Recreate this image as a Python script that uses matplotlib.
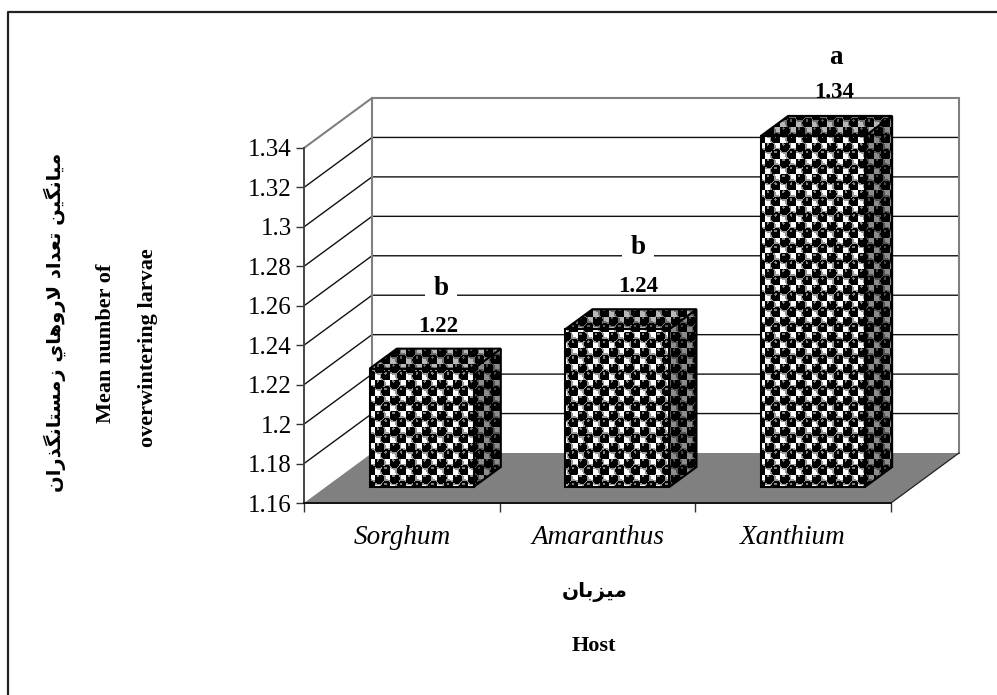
import numpy as np
import matplotlib
matplotlib.use("Agg")
import matplotlib.pyplot as plt
from matplotlib.patches import Polygon
from matplotlib.lines import Line2D

# ---- data ----
categories = ["Sorghum", "Amaranthus", "Xanthium"]
bar_values = [1.22, 1.24, 1.338]
value_labels = ["1.22", "1.24", "1.34"]
group_letters = ["b", "b", "a"]
y_ticks = [1.16, 1.18, 1.20, 1.22, 1.24, 1.26, 1.28, 1.30, 1.32, 1.34]
y_tick_labels = ["1.16", "1.18", "1.2", "1.22", "1.24", "1.26", "1.28", "1.3", "1.32", "1.34"]

W, H = 997, 695
SERIF = "Liberation Serif"

# ---- minimal Arabic shaping (matplotlib has none) ----
FORMS = {
    "ا": (0xFE8D, 0xFE8E), "د": (0xFEA9, 0xFEAA), "ذ": (0xFEAB, 0xFEAC),
    "ر": (0xFEAD, 0xFEAE), "ز": (0xFEAF, 0xFEB0), "و": (0xFEED, 0xFEEE),
    "ب": (0xFE8F, 0xFE90, 0xFE91, 0xFE92), "ت": (0xFE95, 0xFE96, 0xFE97, 0xFE98),
    "س": (0xFEB1, 0xFEB2, 0xFEB3, 0xFEB4), "ع": (0xFEC9, 0xFECA, 0xFECB, 0xFECC),
    "گ": (0xFB92, 0xFB93, 0xFB94, 0xFB95), "ل": (0xFEDD, 0xFEDE, 0xFEDF, 0xFEE0),
    "م": (0xFEE1, 0xFEE2, 0xFEE3, 0xFEE4), "ن": (0xFEE5, 0xFEE6, 0xFEE7, 0xFEE8),
    "ه": (0xFEE9, 0xFEEA, 0xFEEB, 0xFEEC), "ي": (0xFEF1, 0xFEF2, 0xFEF3, 0xFEF4),
}


def shape(text):
    out = []
    prev_joins = False
    i = 0
    while i < len(text):
        c = text[i]
        if c not in FORMS:
            out.append(c)
            prev_joins = False
            i += 1
            continue
        if c == "ل" and i + 1 < len(text) and text[i + 1] == "ا":
            out.append(chr(0xFEFC if prev_joins else 0xFEFB))
            prev_joins = False
            i += 2
            continue
        f = FORMS[c]
        nxt = text[i + 1] if i + 1 < len(text) else " "
        next_joins = len(f) == 4 and nxt in FORMS
        if prev_joins and next_joins:
            g = f[3]
        elif prev_joins:
            g = f[1]
        elif next_joins:
            g = f[2]
        else:
            g = f[0]
        out.append(chr(g))
        prev_joins = len(f) == 4
        i += 1
    return "".join(reversed(out))


fig = plt.figure(figsize=(W / 100, H / 100), dpi=100, facecolor="white")
AX_L, AX_R, AX_T, AX_B = 304, 891, 148, 503
ax = fig.add_axes([AX_L / W, 1 - AX_B / H, (AX_R - AX_L) / W, (AX_B - AX_T) / H])
ax.patch.set_alpha(0)
XMIN, XMAX, YMIN, YMAX = 0, 3, 1.16, 1.34
ax.set_xlim(XMIN, XMAX)
ax.set_ylim(YMIN, YMAX)

# depth of the 3-D box expressed in data units
DX = 68 / ((AX_R - AX_L) / (XMAX - XMIN))
DY = 50 / ((AX_B - AX_T) / (YMAX - YMIN))


def proj(x, y, d):
    return (x + d * DX, y + d * DY)


GRAY = "#808080"

# walls and floor
for pts in ([proj(XMIN, YMAX, 0), proj(XMIN, YMAX, 1), proj(XMAX, YMAX, 1), proj(XMAX, YMIN, 1)],
            [proj(XMIN, YMAX, 1), proj(XMIN, YMIN, 1)]):
    xs, ys = zip(*pts)
    ax.plot(xs, ys, color=GRAY, lw=1.5, clip_on=False, zorder=1.5, solid_joinstyle="miter")
for yv in y_ticks[1:-1]:
    xs, ys = zip(proj(XMIN, yv, 0), proj(XMIN, yv, 1), proj(XMAX, yv, 1))
    ax.plot(xs, ys, color="#111111", lw=1.0, clip_on=False, zorder=1.2)
ax.add_patch(Polygon([proj(XMIN, YMIN, 0), proj(XMAX, YMIN, 0), proj(XMAX, YMIN, 1), proj(XMIN, YMIN, 1)],
                     closed=True, facecolor=GRAY, edgecolor="none", clip_on=False, zorder=1.6))
xs, ys = zip(proj(XMAX, YMIN, 0), proj(XMAX, YMIN, 1))
ax.plot(xs, ys, color="#222222", lw=0.9, clip_on=False, zorder=1.7)

# sphere pattern fill, screen aligned
yy, xx = np.mgrid[0:H, 0:W]
pw, ph = 15.6, 15.8
u = (xx % pw)
v = (yy % ph)
tex = np.ones((H, W))
sphere_centres = [(pw / 4, ph / 4), (3 * pw / 4, 3 * ph / 4)]
for cx, cy in sphere_centres:
    r = np.hypot(u - cx, v - cy)
    tex[r < 7.0] = 0.6
for cx, cy in sphere_centres:
    r = np.hypot(u - cx, v - cy)
    tex[r < 5.4] = 0.0
    r2 = np.hypot(u - cx + 1.0, v - cy + 2.4)
    tex[r2 < 1.3] = 0.5
corners = ax.transData.inverted().transform([(0, 0), (W, H)])
EXTENT = (corners[0, 0], corners[1, 0], corners[0, 1], corners[1, 1])


def add_texture(clip, shade, z):
    im = ax.imshow(tex * shade, extent=EXTENT, cmap="gray", vmin=0, vmax=1, aspect="auto",
                   interpolation="nearest", origin="upper", zorder=z)
    im.set_clip_path(clip)
    im.set_clip_box(fig.bbox)


def textured(patch, shade, z):
    ax.add_patch(patch)
    patch.set_zorder(z + 0.01)
    patch.set_clip_on(False)
    add_texture(patch, shade, z)


# bars
D0, D1 = 0.32, 0.72
centers = np.arange(len(categories)) + 0.5
width = 104 / ((AX_R - AX_L) / 3)
front_x = centers + D0 * DX - 2 / ((AX_R - AX_L) / 3)
base = YMIN + D0 * DY
bars = ax.bar(front_x, np.array(bar_values) - YMIN, width=width, bottom=base,
              facecolor="none", edgecolor="black", linewidth=1.5, clip_on=False, zorder=3.02)
for b, val in zip(bars, bar_values):
    xl, xr = b.get_x(), b.get_x() + b.get_width()
    yt = b.get_y() + b.get_height()
    dd = D1 - D0
    side = Polygon([(xr, base), (xr + dd * DX, base + dd * DY), (xr + dd * DX, yt + dd * DY), (xr, yt)],
                   closed=True, facecolor="none", edgecolor="black", linewidth=1.5)
    top = Polygon([(xl, yt), (xr, yt), (xr + dd * DX, yt + dd * DY), (xl + dd * DX, yt + dd * DY)],
                  closed=True, facecolor="none", edgecolor="black", linewidth=1.5)
    textured(side, 0.55, 2.8)
    textured(top, 0.72, 2.85)
    front = Polygon(b.get_corners(), closed=True, facecolor="none", edgecolor="none")
    ax.add_patch(front)
    front.set_clip_on(False)
    add_texture(front, 1.0, 2.9)
ax.set_xlim(XMIN, XMAX)
ax.set_ylim(YMIN, YMAX)

# axes furniture
ax.set_xticks([0, 1, 2, 3])
ax.set_xticklabels([])
ax.set_xticks(centers, labels=categories, minor=True)
ax.tick_params(axis="x", which="major", length=6.5, width=1.0, color="#333333", top=False)
ax.tick_params(axis="x", which="minor", length=0, pad=16)
for t in ax.get_xticklabels(minor=True):
    t.set_fontfamily(SERIF)
    t.set_fontstyle("italic")
    t.set_fontsize(19.5)
ax.set_yticks(y_ticks, labels=y_tick_labels)
ax.tick_params(axis="y", length=5.8, width=1.0, color="#333333", pad=2.9, labelsize=18)
for t in ax.get_yticklabels():
    t.set_fontfamily(SERIF)
for s in ("top", "right"):
    ax.spines[s].set_visible(False)
ax.spines["left"].set_color("#444444")
ax.spines["left"].set_linewidth(1.4)
ax.spines["bottom"].set_color("#111111")
ax.spines["bottom"].set_linewidth(1.4)


def ftext(px, py, s, **kw):
    return fig.text(px / W, 1 - py / H, s, ha="center", va="center", **kw)


# value labels and group letters
value_px = [438, 638, 834]
value_py = [326, 286, 93]
letter_px = [441, 638, 836]
letter_py = [289, 247, 57]
for i in range(3):
    ftext(value_px[i], value_py[i], value_labels[i], family=SERIF, weight="bold", fontsize=16.5, zorder=6)
    box = dict(facecolor="white", edgecolor="none", pad=6) if group_letters[i] == "b" else None
    ftext(letter_px[i], letter_py[i], group_letters[i], family=SERIF, weight="bold", fontsize=19.5, bbox=box, zorder=6)

# axis titles
ftext(55, 322, shape("ميانگين تعداد لاروهاي زمستانگذران"), family="DejaVu Sans", weight="bold",
      fontsize=14, rotation=90)
ftext(106, 343, "Mean number of", family=SERIF, weight="bold", fontsize=16, rotation=90)
ftext(148, 348, "overwintering larvae", family=SERIF, weight="bold", fontsize=16, rotation=90)
ftext(595, 592, shape("ميزبان"), family="DejaVu Sans", weight="bold", fontsize=14.5)
ftext(594, 646, "Host", family=SERIF, weight="bold", fontsize=16)

# page frame (top and left only)
fig.add_artist(Line2D([8 / W, 8 / W, 1], [0, 1 - 12 / H, 1 - 12 / H], color="#222222", lw=1.6,
                      transform=fig.transFigure))

fig.savefig("out.png", dpi=100)
